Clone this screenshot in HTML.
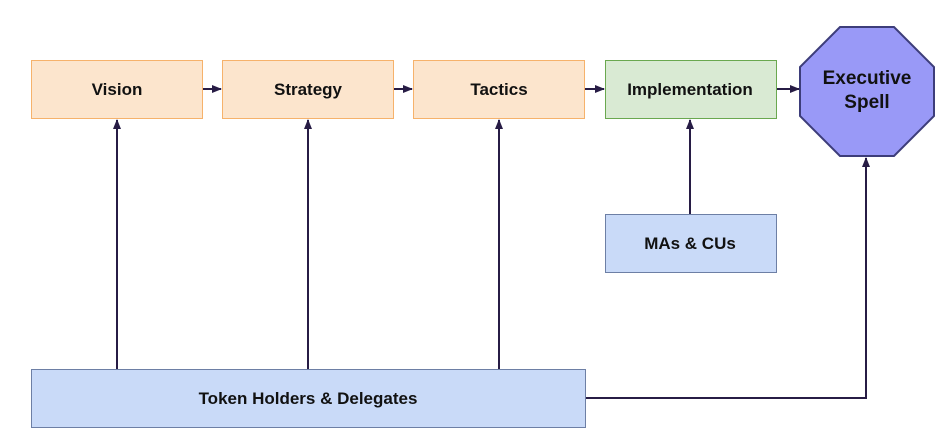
<!DOCTYPE html>
<html><head><style>
body{margin:0;background:#fff;}
</style></head><body>
<svg width="944" height="441" xmlns="http://www.w3.org/2000/svg" font-family="Liberation Sans, Arial, sans-serif" font-weight="bold" font-size="17">
<defs><marker id="a" markerWidth="10" markerHeight="8" refX="9" refY="4" orient="auto" markerUnits="userSpaceOnUse"><path d="M0,0 L10,4 L0,8 z" fill="#271c45"/></marker></defs>
<g fill="#fce5cd" stroke="#f6b26b" stroke-width="1">
<rect x="31.5" y="60.5" width="171" height="58"/>
<rect x="222.5" y="60.5" width="171" height="58"/>
<rect x="413.5" y="60.5" width="171" height="58"/>
</g>
<rect x="605.5" y="60.5" width="171" height="58" fill="#d9ead3" stroke="#6aa84f"/>
<rect x="605.5" y="214.5" width="171" height="58" fill="#c9daf8" stroke="#6d7fa5"/>
<rect x="31.5" y="369.5" width="554" height="58" fill="#c9daf8" stroke="#6d7fa5"/>
<polygon points="840,27 894,27 934,67 934,116 894,156 840,156 800,116 800,67" fill="#9999f7" stroke="#3d3d7a" stroke-width="2"/>
<g stroke="#271c45" stroke-width="2" fill="none" marker-end="url(#a)">
<line x1="203" y1="89" x2="221" y2="89"/>
<line x1="394" y1="89" x2="412" y2="89"/>
<line x1="585" y1="89" x2="604" y2="89"/>
<line x1="777" y1="89" x2="799" y2="89"/>
<line x1="117" y1="369" x2="117" y2="120"/>
<line x1="308" y1="369" x2="308" y2="120"/>
<line x1="499" y1="369" x2="499" y2="120"/>
<line x1="690" y1="214" x2="690" y2="120"/>
<polyline points="586,398 866,398 866,158"/>
</g>
<g fill="#111" text-anchor="middle">
<text x="117" y="95">Vision</text>
<text x="308" y="95">Strategy</text>
<text x="499" y="95">Tactics</text>
<text x="690" y="95">Implementation</text>
<text x="690" y="249">MAs &amp; CUs</text>
<text x="308" y="404">Token Holders &amp; Delegates</text>
<text x="867" y="84" font-size="19">Executive</text>
<text x="867" y="108" font-size="19">Spell</text>
</g>
</svg>
</body></html>
